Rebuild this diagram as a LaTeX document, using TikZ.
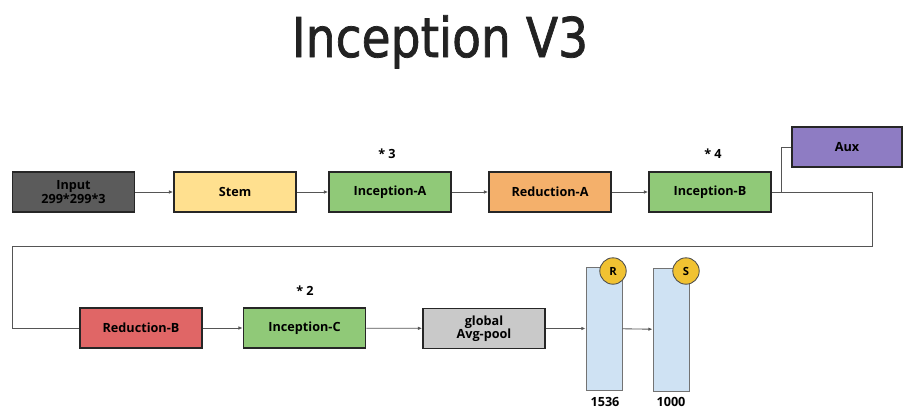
\documentclass[tikz,border=0pt]{standalone}
\usepackage{fontspec}
\setmainfont{Open Sans}
\newfontfamily\titlefont[FakeBold=1.4]{DejaVu Sans}
\usetikzlibrary{arrows.meta}

\definecolor{inputgray}{HTML}{5B5B5B}
\definecolor{stemyellow}{HTML}{FFE08F}
\definecolor{incgreen}{HTML}{90C978}
\definecolor{redorange}{HTML}{F4B06B}
\definecolor{auxpurple}{HTML}{8E7CC3}
\definecolor{redbred}{HTML}{E06666}
\definecolor{poolgray}{HTML}{C9C9C9}
\definecolor{fcblue}{HTML}{CFE2F3}
\definecolor{circgold}{HTML}{F1C232}
\definecolor{linegray}{HTML}{555555}
\definecolor{titleblack}{HTML}{222222}

\tikzset{
  block/.style={draw=black!85, line width=1.1pt, minimum width=3.05cm, minimum height=1cm,
    align=center, font=\fontsize{9}{9.5}\selectfont\bfseries, inner sep=1pt},
  fcbar/.style={draw=black!55, line width=0.6pt, fill=fcblue, minimum width=0.9cm, minimum height=3.075cm},
  badge/.style={circle, draw=black!70, line width=0.6pt, fill=circgold, minimum size=0.66cm, inner sep=0pt,
    font=\fontsize{8}{9}\selectfont\bfseries},
  times/.style={font=\fontsize{9}{10}\selectfont\bfseries},
  conn/.style={draw=linegray, line width=0.6pt},
  flow/.style={conn, -{Latex[length=3pt,width=2.5pt]}}
}

\begin{document}
\begin{tikzpicture}[x=0.025cm, y=-0.025cm]
\useasboundingbox (0,0) rectangle (904,410);

% title
\node[anchor=base, inner sep=0pt, xscale=0.86, text=titleblack] (title) at (440,57)
  {\titlefont\fontsize{39}{40}\selectfont Inception V3};

% first row
\node[block, fill=inputgray] (input) at (73.5,192) {Input\\299*299*3};
\node[block, fill=stemyellow] (stem) at (235,192) {Stem};
\node[block, fill=incgreen] (incA) at (390,192) {Inception-A};
\node[block, fill=redorange] (redA) at (550,192) {Reduction-A};
\node[block, fill=incgreen] (incB) at (710,192) {Inception-B};
\node[block, fill=auxpurple, minimum width=2.75cm] (aux) at (847,147) {Aux};

\node[times] (timesA) at (387,154) {* 3};
\node[times] (timesB) at (713,154) {* 4};

% second row
\node[block, fill=redbred] (redB) at (141,328) {Reduction-B};
\node[block, fill=incgreen] (incC) at (304.5,328) {Inception-C};
\node[block, fill=poolgray] (pool) at (484,328.5) {global\\Avg-pool};

\node[times] (timesC) at (305,291) {* 2};

% fully connected layers
\node[fcbar] (fcR) at (604,328.5) {};
\node[fcbar] (fcS) at (671,329.5) {};
\node[badge] (badgeR) at (613,271) {R};
\node[badge] (badgeS) at (686,271) {S};
\node[times] (sizeR) at (605,402) {1536};
\node[times] (sizeS) at (671,402) {1000};

% connections
\draw[flow] (input) -- (stem);
\draw[flow] (stem) -- (incA);
\draw[flow] (incA) -- (redA);
\draw[flow] (redA) -- (incB);

\coordinate (split) at (781,192);
\coordinate (turnA) at (872,246);
\coordinate (turnB) at (12,246);
\draw[conn] (incB) -- (split) |- (aux);
\draw[conn] (split) -| (turnA) -- (turnB) |- (redB);

\draw[flow] (redB) -- (incC);
\draw[flow] (incC) -- (pool);
\draw[flow] (pool) -- (fcR);
\draw[flow] (fcR) -- (fcS);

\end{tikzpicture}
\end{document}
